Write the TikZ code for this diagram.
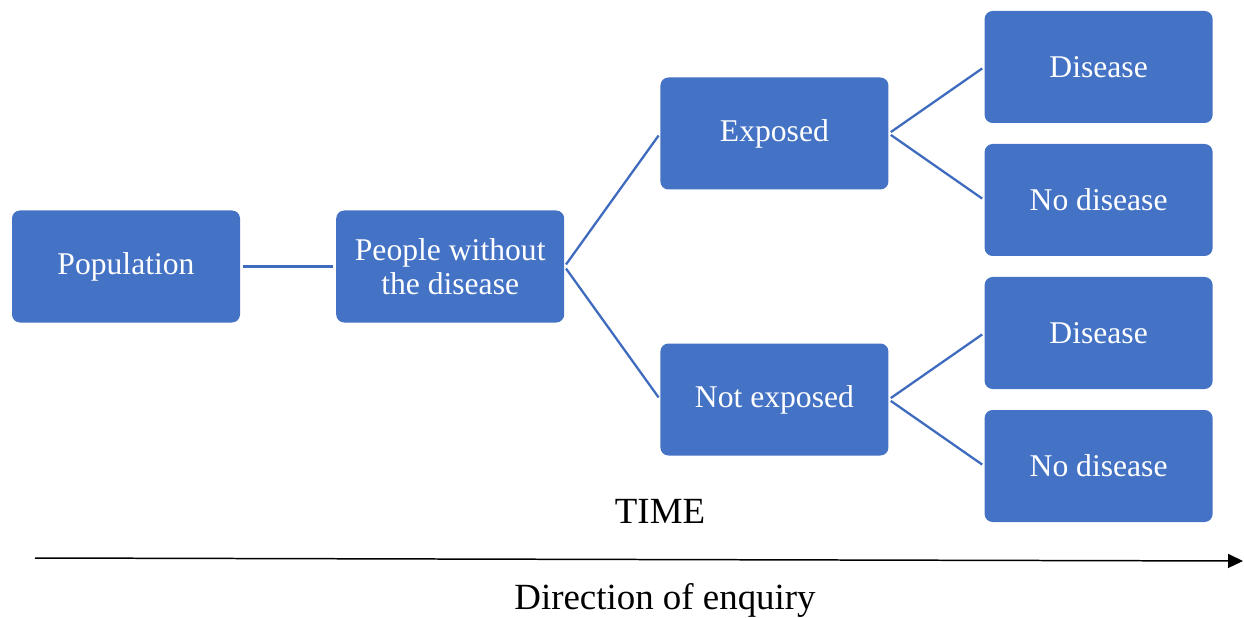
\documentclass[tikz,border=0pt]{standalone}
\usepackage{fontspec}
\setmainfont{Liberation Serif}
\usepackage{tikz}
\usetikzlibrary{arrows.meta, calc, positioning}
\definecolor{boxblue}{HTML}{4472C4}
\definecolor{linkblue}{HTML}{3F6BBF}
\tikzset{
node distance=1.91cm, % gap between the columns of boxes
box/.style={fill=boxblue, text=white, rounded corners=0.16cm, minimum width=4.56cm, minimum height=2.24cm, inner sep=0pt, align=center, font=\fontsize{18}{19.5}\selectfont},
link/.style={draw=linkblue, line width=1.3pt, shorten <=0.05cm, shorten >=0.05cm},
label/.style={inner sep=0pt, font=\fontsize{21}{24}\selectfont},
}

\begin{document}
\begin{tikzpicture}
  \useasboundingbox (0,0) rectangle (24.88,-12.36);%keep the margins of the page
  \node[box] (pop) at (2.52,-5.33) {Population};
  \node[box, right=of pop] (ppl) {People without\\the disease};
  \node[box, right=of ppl, yshift=2.66cm] (exp) {Exposed};
  \node[box, right=of ppl, yshift=-2.66cm] (nexp) {Not exposed};
  \node[box, right=of exp, yshift=1.33cm] (dis1) {Disease};
  \node[box, right=of exp, yshift=-1.33cm] (nodis1) {No disease};
  \node[box, right=of nexp, yshift=1.33cm] (dis2) {Disease};
  \node[box, right=of nexp, yshift=-1.33cm] (nodis2) {No disease};

  \draw[link] (pop.east) -- (ppl.west);
  \draw[link] (ppl.east) -- (exp.west);
  \draw[link] (ppl.east) -- (nexp.west);
  \draw[link] (exp.east) -- (dis1.west);
  \draw[link] (exp.east) -- (nodis1.west);
  \draw[link] (nexp.east) -- (dis2.west);
  \draw[link] (nexp.east) -- (nodis2.west);

  % time axis
  \node[label] (time) at (13.2,-10.22) {TIME};
  \coordinate (tstart) at (0.70,-11.16);
  \coordinate (tend) at (24.86,-11.22);
  \draw[line width=0.85pt, -{Triangle[length=0.3cm,width=0.28cm]}] (tstart) -- (tend);
  \node[label] (enq) at (13.3,-12.0) {Direction of enquiry};
\end{tikzpicture}
\end{document}
